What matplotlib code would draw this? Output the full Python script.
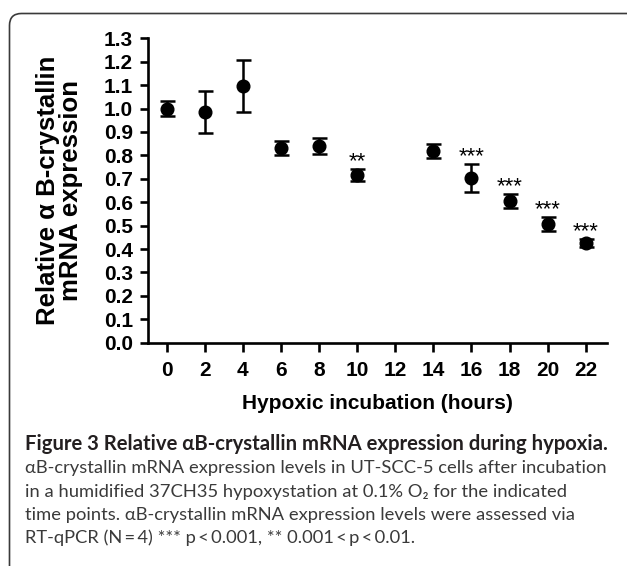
import matplotlib
matplotlib.use("Agg")
import matplotlib.pyplot as plt
from matplotlib.patches import FancyBboxPatch
from matplotlib.transforms import IdentityTransform

hours = [0, 2, 4, 6, 8, 10, 14, 16, 18, 20, 22]
expression = [1.00, 0.985, 1.097, 0.831, 0.840, 0.716, 0.818, 0.703, 0.606, 0.508, 0.427]
sem = [0.032, 0.090, 0.112, 0.029, 0.033, 0.025, 0.030, 0.060, 0.030, 0.030, 0.017]
stars = {10: "**", 16: "***", 18: "***", 20: "***", 22: "***"}

xticks = [0, 2, 4, 6, 8, 10, 12, 14, 16, 18, 20, 22]
yticks = [round(0.1 * i, 1) for i in range(14)]

caption_title = "Figure 3 Relative \u03b1B-crystallin mRNA expression during hypoxia."
caption_lines = [
    "\u03b1B-crystallin mRNA expression levels in UT-SCC-5 cells after incubation",
    "in a humidified 37CH35 hypoxystation at 0.1% O\u2082 for the indicated",
    "time points. \u03b1B-crystallin mRNA expression levels were assessed via",
    "RT-qPCR (N\u2009=\u20094) *** p\u2009<\u20090.001, ** 0.001\u2009<\u2009p\u2009<\u20090.01.",
]

plt.rcParams['font.family'] = ['Liberation Sans', 'DejaVu Sans']

fig = plt.figure(figsize=(6.27, 5.66), dpi=100)
W, H = 627, 566

# rounded frame around figure + caption (runs off the right/bottom edge)
frame = FancyBboxPatch((9.5, -40), 700, H - 13.5 + 40,
                       boxstyle="round,pad=0,rounding_size=12",
                       transform=IdentityTransform(), fill=False,
                       edgecolor="#3a3a3a", linewidth=1.2)
fig.patches.append(frame)

ax = fig.add_axes([147.7 / W, 1 - 342.7 / H, (606.7 - 147.7) / W, (342.7 - 38.3) / H])

ax.errorbar(hours, expression, yerr=sem, fmt='o', color='black', markersize=9.1,
            elinewidth=1.8, capsize=5.4, capthick=1.8)

for h, s in stars.items():
    i = hours.index(h)
    ax.text(h, expression[i] + sem[i] + 0.008, s, ha='center', va='baseline',
            fontsize=16, color='black')

ax.set_xlim(-1, 23.1)
ax.set_ylim(0, 1.3)
ax.set_xticks(xticks)
ax.set_yticks(yticks)
ax.set_yticklabels([f"{v:.1f}" for v in yticks])

for side in ['top', 'right']:
    ax.spines[side].set_visible(False)
for side in ['left', 'bottom']:
    ax.spines[side].set_linewidth(1.9)

ax.tick_params(axis='y', length=5.5, width=1.9, pad=5, labelsize=15)
ax.tick_params(axis='x', length=6.5, width=1.9, pad=7, labelsize=15)
for lab in ax.get_xticklabels() + ax.get_yticklabels():
    lab.set_fontweight('bold')

ax.set_xlabel("Hypoxic incubation (hours)", fontsize=15, fontweight='bold', labelpad=10)
ax.set_ylabel("Relative \u03b1 B-crystallin\nmRNA expression", fontsize=18.5,
              fontweight='bold', labelpad=15, linespacing=0.95)

cap_font = ['Lato', 'DejaVu Sans']
fig.text(25 / W, 1 - 450 / H, caption_title, fontsize=14.6, fontweight='bold',
         family=cap_font, color='#231f20', va='baseline')
for k, line in enumerate(caption_lines):
    fig.text(25 / W, 1 - (473.3 + 23.3 * k) / H, line, fontsize=13.2,
             family=cap_font, color='#3a3a3a', va='baseline')

fig.savefig("out.png", dpi=100)
